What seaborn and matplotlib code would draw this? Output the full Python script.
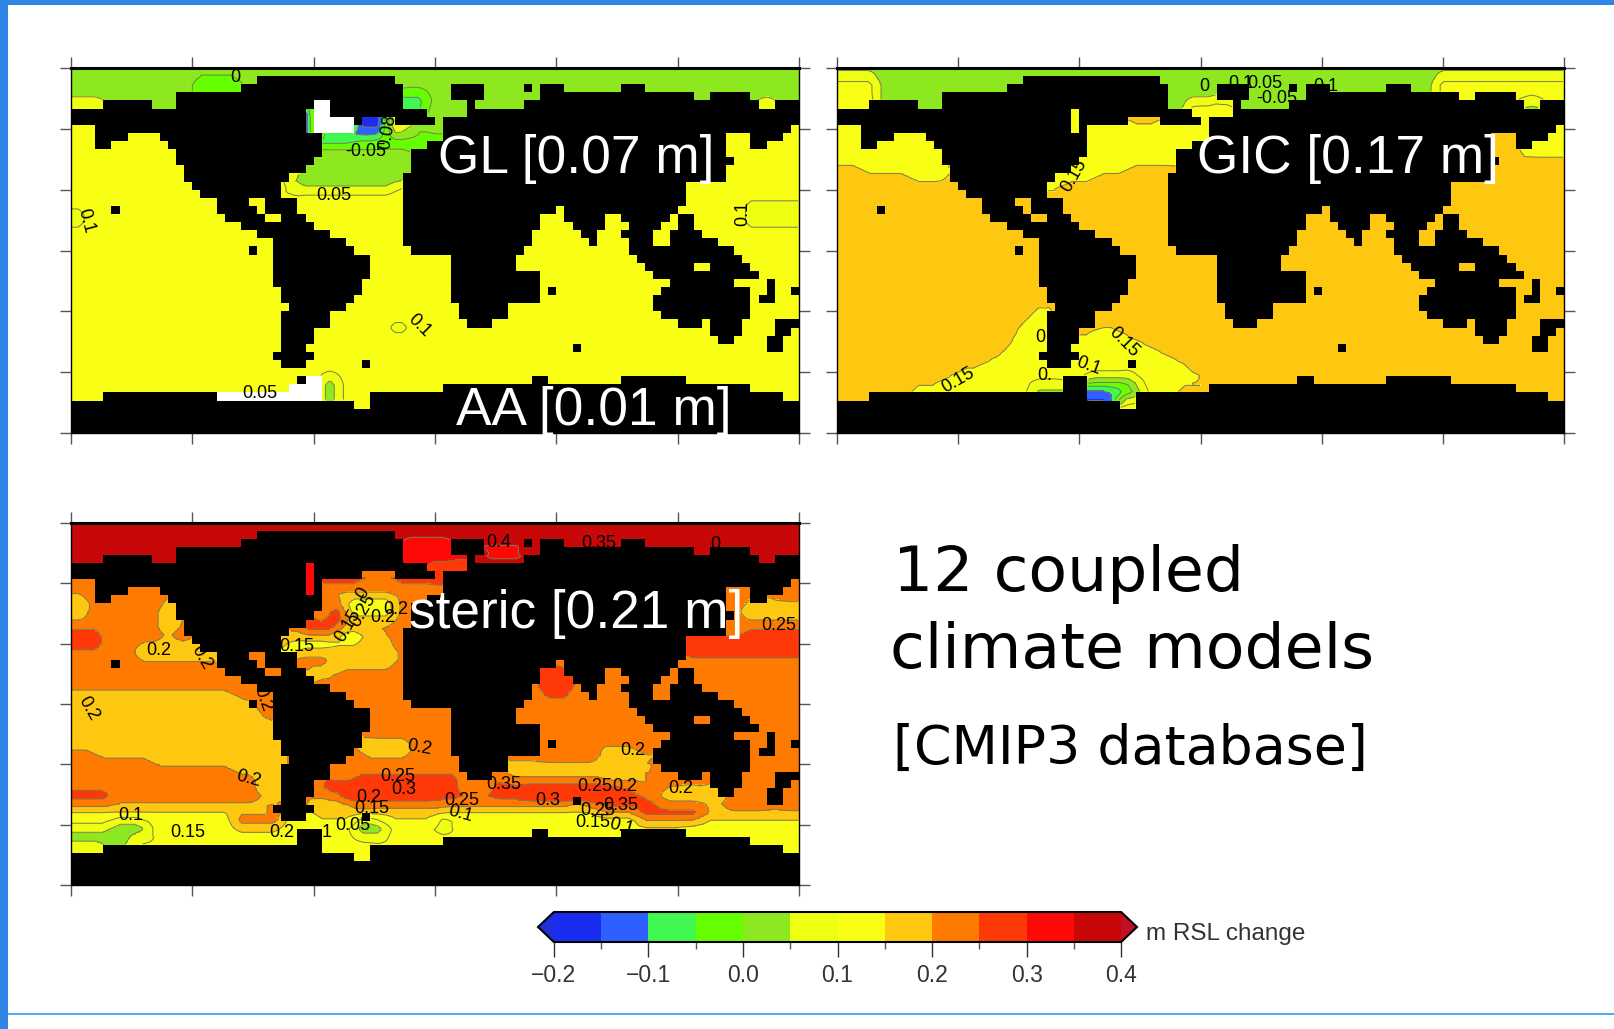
import numpy as np
import matplotlib
matplotlib.use('Agg')
import matplotlib.pyplot as plt
from matplotlib.colors import ListedColormap, BoundaryNorm
from matplotlib.patches import Rectangle
import seaborn as sns

# 4 degree ocean model grid, 90 x 45 cells
NX, NY = 90, 45

# land cells per row: (first column, end column)
LAND_ROWS = [
    [],
    [(23, 40)],
    [(21, 41), (47, 51), (56, 57), (58, 61), (68, 71)],
    [(13, 41), (47, 51), (58, 77), (79, 84)],
    [(4, 10), (13, 41), (49, 50), (56, 85), (87, 90)],
    [(0, 44), (49, 90)],
    [(0, 36), (40, 45), (46, 90)],
    [(3, 31), (46, 89)],
    [(3, 7), (11, 31), (46, 81), (84, 88)],
    [(3, 5), (12, 31), (44, 81), (84, 86)],
    [(13, 31), (42, 81)],
    [(13, 30), (42, 82)],
    [(14, 29), (42, 81)],
    [(14, 27), (41, 81)],
    [(15, 26), (41, 76)],
    [(16, 26), (41, 76)],
    [(18, 22), (24, 28), (41, 76)],
    [(5, 6), (18, 23), (24, 28), (41, 60), (61, 75)],
    [(19, 24), (26, 29), (41, 58), (61, 66), (68, 74), (75, 77)],
    [(21, 30), (41, 58), (62, 66), (69, 73), (75, 77)],
    [(23, 32), (41, 57), (63, 65), (68, 72), (74, 78)],
    [(25, 34), (41, 57), (64, 65), (69, 72), (74, 80)],
    [(22, 23), (25, 35), (42, 56), (69, 82)],
    [(25, 37), (47, 55), (70, 83)],
    [(25, 37), (47, 55), (71, 77), (79, 84)],
    [(25, 37), (47, 58), (72, 85)],
    [(25, 36), (47, 58), (74, 82), (86, 87)],
    [(26, 36), (47, 58), (59, 60), (73, 84), (86, 87), (89, 90)],
    [(26, 35), (47, 58), (72, 84), (85, 87)],
    [(27, 34), (48, 54), (72, 84)],
    [(26, 32), (48, 54), (73, 84)],
    [(26, 32), (49, 52), (75, 78), (79, 83), (87, 90)],
    [(26, 30), (79, 83), (87, 89)],
    [(26, 30), (80, 82), (86, 88)],
    [(26, 29), (62, 63), (86, 88)],
    [(25, 30)],
    [(26, 29), (36, 37)],
    [],
    [(28, 31), (57, 59), (68, 76)],
    [(28, 31), (46, 84)],
    [(4, 31), (37, 88)],
    [(0, 35), (37, 90)],
    [(0, 90)],
    [(0, 90)],
    [(0, 90)],
]

# sea level change per ocean region: (value, row from, row to, column from, column to)
GL_BASE = 0.12
GL_REGIONS = [
    (0.02, 0, 5, 0, 90),
    (0.12, 4, 5, 0, 4),
    (0.12, 4, 5, 83, 87),
    (-0.02, 1, 3, 15, 21),
    (-0.07, 3, 5, 41, 44),
    (0.02, 5, 8, 42, 50),
    (-0.02, 8, 10, 31, 46),
    (-0.07, 7, 9, 31, 38),
    (-0.12, 8, 9, 31, 35),
    (-0.17, 6, 8, 35, 39),
    (-0.17, 5, 8, 29, 30),
    (0.02, 10, 14, 28, 43),
    (0.02, 14, 15, 27, 40),
    (0.09, 31, 33, 39, 42),
    (0.09, 16, 20, 83, 90),
    (0.09, 17, 20, 0, 2),
    (0.02, 38, 41, 31, 33),
]
# off-scale cells drawn white in the GL panel
GL_ICE = [(4, 6, 30, 32), (6, 8, 30, 35), (38, 39, 29, 31), (39, 40, 27, 31), (40, 41, 18, 31)]
# narrow channels that are open ocean in one panel only
GL_OPEN = [(5, 8, 29, 30)]
GIC_OPEN = [(5, 8, 29, 30)]
STERIC_OPEN = [(5, 9, 29, 30)]

GIC_BASE = 0.18
GIC_REGIONS = [
    (0.02, 0, 5, 0, 90),
    (0.12, 1, 5, 0, 5),
    (0.12, 1, 4, 74, 90),
    (0.12, 4, 8, 43, 48),
    (0.12, 5, 9, 29, 30),
    (0.12, 7, 11, 31, 46),
    (0.12, 11, 12, 30, 42),
    (0.12, 12, 13, 29, 36),
    (0.12, 13, 14, 27, 32),
    (0.12, 14, 15, 26, 28),
    (0.12, 7, 11, 0, 13),
    (0.12, 11, 12, 0, 13),
    (0.12, 12, 13, 3, 13),
    (0.12, 13, 14, 9, 14),
    (0.12, 7, 11, 84, 90),
    (0.12, 29, 30, 25, 26),
    (0.12, 30, 31, 24, 26),
    (0.12, 31, 32, 23, 26),
    (0.12, 32, 34, 22, 26),
    (0.12, 34, 35, 21, 26),
    (0.12, 35, 36, 20, 26),
    (0.12, 36, 37, 18, 26),
    (0.12, 37, 38, 15, 30),
    (0.12, 38, 39, 13, 30),
    (0.12, 39, 40, 9, 30),
    (0.12, 40, 41, 5, 30),
    (0.12, 32, 33, 32, 35),
    (0.12, 33, 34, 30, 37),
    (0.12, 34, 35, 29, 39),
    (0.12, 35, 36, 30, 41),
    (0.12, 36, 37, 29, 43),
    (0.12, 37, 38, 29, 44),
    (0.12, 38, 39, 29, 46),
    (0.12, 39, 40, 29, 42),
    (0.02, 39, 40, 24, 28),
    (0.02, 38, 39, 31, 37),
    (0.02, 39, 41, 31, 38),
    (-0.07, 39, 41, 31, 36),
    (-0.17, 40, 41, 31, 34),
]

STERIC_BASE = 0.22
STERIC_REGIONS = [
    (0.37, 0, 6, 0, 90),
    (0.32, 2, 5, 41, 47),
    (0.32, 3, 4, 51, 56),
    (0.32, 4, 5, 47, 49),
    (0.27, 5, 7, 43, 49),
    (0.32, 5, 9, 29, 30),
    (0.27, 7, 8, 31, 46),
    (0.17, 9, 12, 0, 2),
    (0.17, 10, 14, 11, 13),
    (0.17, 15, 17, 8, 18),
    (0.27, 13, 16, 0, 4),
    (0.17, 10, 12, 83, 90),
    (0.27, 13, 14, 83, 90),
    (0.27, 14, 17, 76, 90),
    (0.17, 15, 18, 32, 40),
    (0.17, 13, 15, 36, 39),
    (0.17, 18, 19, 27, 33),
    (0.12, 9, 12, 33, 40),
    (0.12, 13, 14, 32, 36),
    (0.12, 14, 15, 27, 36),
    (0.12, 15, 16, 26, 32),
    (0.27, 10, 13, 32, 34),
    (0.27, 12, 14, 28, 33),
    (0.27, 18, 22, 58, 62),
    (0.17, 21, 22, 0, 20),
    (0.17, 22, 24, 0, 23),
    (0.17, 24, 25, 0, 24),
    (0.17, 25, 27, 0, 25),
    (0.17, 27, 28, 0, 26),
    (0.17, 28, 29, 3, 26),
    (0.17, 29, 30, 10, 26),
    (0.17, 30, 31, 20, 26),
    (0.17, 31, 34, 23, 26),
    (0.27, 33, 35, 0, 5),
    (0.17, 27, 29, 36, 42),
    (0.17, 28, 29, 65, 70),
    (0.17, 29, 30, 66, 72),
    (0.17, 30, 31, 54, 68),
    (0.17, 31, 32, 54, 72),
    (0.27, 31, 32, 35, 48),
    (0.27, 32, 34, 31, 48),
    (0.32, 33, 34, 33, 45),
    (0.27, 32, 33, 52, 66),
    (0.27, 33, 34, 52, 70),
    (0.32, 33, 34, 56, 68),
    (0.27, 34, 35, 32, 72),
    (0.17, 34, 35, 30, 34),
    (0.17, 33, 35, 73, 81),
    (0.17, 35, 36, 0, 65),
    (0.27, 35, 36, 65, 78),
    (0.27, 36, 37, 70, 78),
    (0.12, 36, 42, 0, 70),
    (0.17, 36, 37, 30, 46),
    (0.17, 36, 37, 78, 90),
    (0.12, 37, 42, 70, 90),
    (0.22, 36, 38, 20, 26),
    (0.02, 37, 38, 5, 9),
    (0.02, 38, 39, 0, 10),
    (0.02, 39, 40, 0, 7),
    (0.02, 37, 39, 35, 39),
    (0.02, 37, 38, 45, 47),
]

# contour labels: column, row, text, rotation
GL_LABELS = [(19.8, 0.7, '0', 0), (32, 15.2, '0.05', 0), (36, 9.8, '-0.05', 0), (38.7, 7.4, '0.08', 80),
             (1.3, 18.3, '0.1', -75), (82.5, 17.4, '0.1', 90), (42.6, 31.3, '0.1', -45), (22.8, 39.6, '0.05', 0)]
GIC_LABELS = [(14.5, 38, '0.15', 30), (35, 33.3, '0.15', -45), (30.6, 36.2, '0.1', -20), (24.7, 32.7, '0', 0),
              (25.2, 37.4, '0.', 0), (45, 1.8, '0', 0), (60, 1.8, '0.1', 0), (28.8, 12.8, '0.15', 60),
              (52.5, 1.4, '0.05', 0), (54, 3.2, '-0.05', 0), (49.5, 1.4, '0.1', 0)]
STERIC_LABELS = [(52.4, 1.9, '0.4', 0), (64.8, 2.1, '0.35', 0), (79.4, 2.2, '0.', 0), (10.3, 15.3, '0.2', 0),
                 (15.6, 16.2, '0.2', -60), (23.2, 21.4, '0.2', -70), (1.7, 22.6, '0.2', -60), (27.4, 14.9, '0.15', 0),
                 (39.6, 10.2, '0.2', 0), (33.8, 12.3, '0.15', 60), (35.6, 10.4, '0.25', 60), (35.6, 8.2, '0', 60),
                 (38, 11.2, '0.2', 0), (87, 12.3, '0.25', 0), (42.6, 27.4, '0.2', -10), (69, 27.8, '0.2', 0),
                 (21.4, 31.3, '0.2', -15), (39.9, 31, '0.25', 0), (40.6, 32.6, '0.3', 0), (53, 32, '0.35', 0),
                 (58.5, 34, '0.3', 0), (64.2, 32.2, '0.25', 0), (68, 32.2, '0.2', 0), (74.9, 32.5, '0.2', 0),
                 (47.8, 34, '0.25', 0), (47.7, 35.7, '0.1', -15), (36.7, 35, '0.15', 0), (36.3, 33.6, '0.2', 0),
                 (6.9, 35.9, '0.1', 0), (13.9, 38, '0.15', 0), (25.6, 38, '0.2', 0), (34.4, 37.1, '0.05', 0),
                 (31.1, 38, '1', 0), (67.5, 34.6, '0.35', 0), (64.6, 35.3, '0.25', 0), (64, 36.7, '0.15', 0),
                 (67.6, 37.3, '0.1', -15)]

LEVELS = np.round(np.arange(-0.2, 0.401, 0.05), 2)
LEVEL_COLORS = ['#1a2cf0', '#2e60ff', '#40f850', '#66ff00', '#8ee820', '#eeff11',
                '#f8ff14', '#ffc810', '#ff7a00', '#ff3808', '#ff0808', '#c80808']
CBAR_TICKS = [-0.2, -0.1, 0.0, 0.1, 0.2, 0.3, 0.4]

W, H = 1614, 1029
UP = 4  # cells are split to get rounded region edges over the blocky land


def box(px0, py0, px1, py1):
    return [px0 / W, 1 - py1 / H, (px1 - px0) / W, (py1 - py0) / H]


def land_mask():
    land = np.zeros((NY, NX), dtype=bool)
    for r, runs in enumerate(LAND_ROWS):
        for s, e in runs:
            land[r, s:e] = True
    return land


def make_field(base, regions):
    field = np.full((NY, NX), base, dtype=float)
    for value, r0, r1, c0, c1 in regions:
        field[r0:r1, c0:c1] = value
    return field


def split(cells):
    return np.repeat(np.repeat(cells, UP, axis=0), UP, axis=1)


def refine(field, mask, n=9):
    ok = ~split(mask)
    vals = np.where(ok, split(field), 0.0)
    wgt = ok.astype(float)
    kernel = np.ones(n)
    for axis in (0, 1):
        vals = np.apply_along_axis(lambda v: np.convolve(v, kernel, mode='same'), axis, vals)
        wgt = np.apply_along_axis(lambda v: np.convolve(v, kernel, mode='same'), axis, wgt)
    return vals / np.maximum(wgt, 1e-6), ~ok


cmap = ListedColormap(LEVEL_COLORS)
cmap.set_under('#2030d8')
cmap.set_over('#c01028')
cmap.set_bad('black')
norm = BoundaryNorm(LEVELS, cmap.N)

sns.set_theme(style='white')
plt.rcParams['font.family'] = ['Liberation Sans', 'DejaVu Sans']

fig = plt.figure(figsize=(W / 100, H / 100), dpi=100, facecolor='white')

# slide frame
fig.add_artist(Rectangle((0, 1 - 5 / H), 1, 5 / H, transform=fig.transFigure, color='#2f86e6', lw=0))
fig.add_artist(Rectangle((0, 0), 8 / W, 1, transform=fig.transFigure, color='#2f86e6', lw=0))
fig.add_artist(Rectangle((8 / W, 1 - 1015 / H), 1, 2 / H, transform=fig.transFigure, color='#55a8f5', lw=0))

cbar_ax = fig.add_axes(box(538, 912, 1137, 942))


def draw_panel(pos, base, regions, labels, title, title_xy, ice=(), opened=(), with_cbar=False):
    ax = fig.add_axes(box(*pos))
    ax.set_facecolor('black')
    land = land_mask()
    for r0, r1, c0, c1 in opened:
        land[r0:r1, c0:c1] = False
    ice_cells = np.zeros((NY, NX), dtype=bool)
    for r0, r1, c0, c1 in ice:
        ice_cells[r0:r1, c0:c1] = True
    land_and_ice = land & ~ice_cells
    fine, fine_land = refine(make_field(base, regions), land_and_ice)
    kws = dict(cbar=False)
    if with_cbar:
        kws = dict(cbar=True, cbar_ax=cbar_ax,
                   cbar_kws=dict(orientation='horizontal', extend='both', extendfrac=0.028, ticks=CBAR_TICKS))
    sns.heatmap(fine, mask=fine_land, cmap=cmap, norm=norm, xticklabels=False, yticklabels=False, ax=ax, **kws)
    if ice:
        sns.heatmap(np.zeros_like(fine), mask=~split(ice_cells), cmap=ListedColormap(['white']), cbar=False,
                    xticklabels=False, yticklabels=False, ax=ax)
    xs = np.arange(NX * UP) + 0.5
    ys = np.arange(NY * UP) + 0.5
    ax.contour(xs, ys, np.ma.masked_where(fine_land | split(ice_cells), fine),
               levels=np.round(np.arange(-0.15, 0.4, 0.05), 2), colors='#7c7c50', linewidths=0.7, linestyles='solid')
    ax.set_xlim(0, NX * UP)
    ax.set_ylim(NY * UP, 0)
    ax.set_xticks(np.linspace(0, NX * UP, 7))
    ax.set_yticks(np.linspace(0, NY * UP, 7))
    ax.tick_params(length=8, width=1, color='#555555', top=True, bottom=True, left=True, right=True, pad=0)
    for name, spine in ax.spines.items():
        spine.set_visible(True)
        spine.set_color('black')
        spine.set_linewidth(2.2 if name == 'top' else 1)
    for col, row, text, rot in labels:
        ax.text((col + 0.5) * UP, (row + 0.5) * UP, text, fontsize=13, color='black', rotation=rot,
                ha='center', va='center')
    for t, (px, py) in zip(title, title_xy):
        fig.text(px / W, 1 - py / H, t, color='white', fontsize=38.3, ha='left', va='center')
    return ax


draw_panel((71, 68, 799, 433), GL_BASE, GL_REGIONS, GL_LABELS, ['GL [0.07 m]', 'AA [0.01 m]'],
           [(438, 159), (456, 411)], ice=GL_ICE, opened=GL_OPEN)
draw_panel((837, 68, 1564, 433), GIC_BASE, GIC_REGIONS, GIC_LABELS, ['GIC [0.17 m]'], [(1197, 159)], opened=GIC_OPEN)
ax_steric = draw_panel((71, 523, 799, 885), STERIC_BASE, STERIC_REGIONS, STERIC_LABELS, ['steric [0.21 m]'],
                       [(409, 614)], opened=STERIC_OPEN, with_cbar=True)

cb = ax_steric.collections[0].colorbar
cb.ax.set_xticks(LEVELS, minor=True)
cb.ax.tick_params(which='major', length=11, width=1, color='#333333', labelsize=16.5, labelcolor='#333333', pad=5,
                  bottom=True)
cb.ax.tick_params(which='minor', length=5, width=1, color='#555555', bottom=True)
cb.outline.set_edgecolor('black')
cb.outline.set_linewidth(1.5)
cb.set_ticklabels(['\u22120.2', '\u22120.1', '0.0', '0.1', '0.2', '0.3', '0.4'])
fig.text(1146 / W, 1 - 934 / H, 'm RSL change', fontsize=17.5, color='#333333', ha='left', va='center')

fig.text(893 / W, 1 - 574 / H, '12 coupled', fontsize=45.5, color='black', family='DejaVu Sans', va='center')
fig.text(890 / W, 1 - 651 / H, 'climate models', fontsize=45.5, color='black', family='DejaVu Sans', va='center')
fig.text(893 / W, 1 - 749 / H, '[CMIP3 database]', fontsize=38.7, color='black', family='DejaVu Sans', va='center')

fig.savefig('out.png', dpi=100)
